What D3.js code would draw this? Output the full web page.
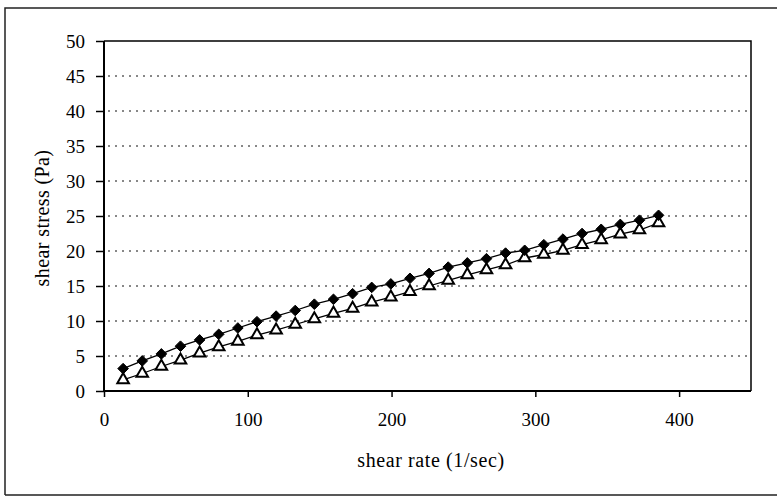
<!DOCTYPE html>
<html>
<head>
<meta charset="utf-8">
<script src="https://cdn.jsdelivr.net/npm/d3@7"></script>
<style>
  html, body { margin: 0; padding: 0; background: #fff; }
  svg { display: block; }
  text { font-family: "Liberation Serif", "Times New Roman", serif; fill: #000; }
</style>
</head>
<body>
<svg id="chart" width="778" height="496"></svg>
<script>
// ---- data ----
const shearRate = [13.3, 26.6, 39.9, 53.2, 66.5, 79.8, 93.1, 106.4, 119.7, 133.0,
  146.3, 159.6, 172.9, 186.2, 199.5, 212.8, 226.1, 239.4, 252.7, 266.0,
  279.3, 292.6, 305.9, 319.2, 332.5, 345.8, 359.1, 372.4, 385.7];
const stressDiamond = [3.2, 4.3, 5.3, 6.4, 7.3, 8.1, 9.0, 9.9, 10.7, 11.5,
  12.4, 13.1, 13.9, 14.8, 15.3, 16.1, 16.8, 17.7, 18.3, 18.9,
  19.7, 20.1, 20.9, 21.7, 22.5, 23.1, 23.8, 24.4, 25.1];
const stressTriangle = [1.6, 2.5, 3.5, 4.4, 5.4, 6.3, 7.1, 8.0, 8.7, 9.5,
  10.3, 11.1, 11.8, 12.7, 13.4, 14.2, 15.0, 15.8, 16.6, 17.3,
  18.0, 19.0, 19.5, 20.1, 20.9, 21.6, 22.4, 23.0, 24.0];
const xTicks = [0, 100, 200, 300, 400];
const yTicks = [0, 5, 10, 15, 20, 25, 30, 35, 40, 45, 50];
const xLabel = "shear rate (1/sec)";
const yLabel = "shear stress (Pa)";

// ---- layout ----
const svg = d3.select("#chart");
const L = 104, R = 751, T = 41, B = 391;
const x = d3.scaleLinear().domain([0, 450]).range([L, R]);
const y = d3.scaleLinear().domain([0, 50]).range([B, T]);
const FONT = '"Liberation Serif", "Times New Roman", serif';

// outer frame
svg.append("path")
  .attr("d", `M5,495 L5,8 L777,8 M5,495 L777,495`)
  .attr("fill", "none").attr("stroke", "#222").attr("stroke-width", 1.5);

// gridlines
svg.append("g").selectAll("line")
  .data(yTicks.filter(d => d > 0 && d < 50))
  .join("line")
  .attr("x1", L + 4).attr("x2", R)
  .attr("y1", d => y(d)).attr("y2", d => y(d))
  .attr("stroke", "#111").attr("stroke-width", 1)
  .attr("stroke-dasharray", "2,5");

// plot border (top & right)
svg.append("path")
  .attr("d", `M${L},${T} L${R},${T} L${R},${B}`)
  .attr("fill", "none").attr("stroke", "#000").attr("stroke-width", 1.5);

// axes
const xAxis = d3.axisBottom(x).tickValues(xTicks).tickSize(6).tickPadding(16).tickFormat(d3.format("d"));
const yAxis = d3.axisLeft(y).tickValues(yTicks).tickSize(8).tickPadding(11).tickFormat(d3.format("d"));

const gx = svg.append("g").attr("transform", `translate(0,${B})`).call(xAxis);
const gy = svg.append("g").attr("transform", `translate(${L},0)`).call(yAxis);
[gx, gy].forEach(g => {
  g.attr("font-family", FONT).attr("font-size", 19);
  g.select(".domain").attr("stroke", "#000").attr("stroke-width", 2);
  g.selectAll(".tick line").attr("stroke", "#000").attr("stroke-width", 1.5);
  g.selectAll(".tick text")
    .style("font-family", FONT)
    .style("font-size", "19px").attr("fill", "#000");
});
gx.select(".domain").attr("d", `M${L},0H${R}`);
gy.select(".domain").attr("d", `M0,${B}V${T}`);

// axis titles
svg.append("text")
  .attr("x", 431).attr("y", 467)
  .attr("text-anchor", "middle")
  .style("font-size", "20px")
  .style("letter-spacing", "0.6px")
  .text(xLabel);
svg.append("text")
  .attr("transform", `translate(49,218) rotate(-90)`)
  .attr("text-anchor", "middle")
  .style("font-size", "20px")
  .style("letter-spacing", "0.4px")
  .text(yLabel);

// series
const line = d3.line().x(d => x(d[0])).y(d => y(d[1]));
const diamondData = shearRate.map((r, i) => [r, stressDiamond[i]]);
const triangleData = shearRate.map((r, i) => [r, stressTriangle[i]]);

svg.append("path").datum(triangleData).attr("d", line)
  .attr("fill", "none").attr("stroke", "#000").attr("stroke-width", 1.3);
svg.append("path").datum(diamondData).attr("d", line)
  .attr("fill", "none").attr("stroke", "#000").attr("stroke-width", 1.3);

const diamondSym = d3.symbol().type(d3.symbolDiamond2).size(72);
const triSym = d3.symbol().type(d3.symbolTriangle).size(58);

svg.append("g").selectAll("path")
  .data(triangleData).join("path")
  .attr("d", triSym)
  .attr("transform", d => `translate(${x(d[0])},${y(d[1])})`)
  .attr("fill", "#fff").attr("stroke", "#000").attr("stroke-width", 2);

svg.append("g").selectAll("path")
  .data(diamondData).join("path")
  .attr("d", diamondSym)
  .attr("transform", d => `translate(${x(d[0])},${y(d[1])})`)
  .attr("fill", "#000").attr("stroke", "#000").attr("stroke-width", 1);
</script>
</body>
</html>
